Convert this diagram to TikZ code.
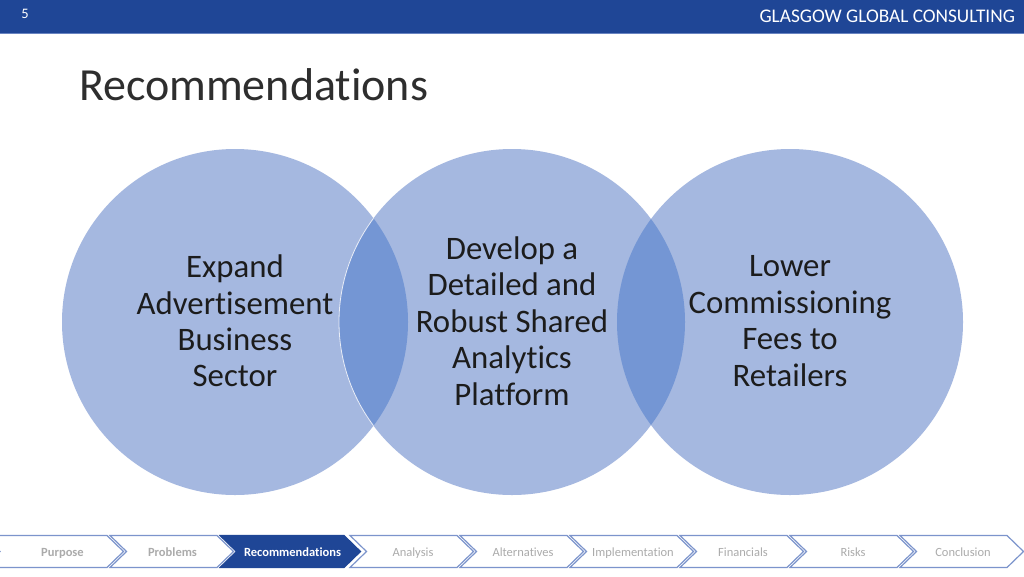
\documentclass[tikz,border=0pt]{standalone}
\usepackage{fontspec}
\setmainfont[Ligatures=NoCommon,RawFeature={-liga;-clig}]{Carlito}
\definecolor{barblue}{HTML}{1F4696}
\definecolor{circblue}{HTML}{A5B8E0}
\definecolor{lensblue}{HTML}{7496D4}
\definecolor{chevline}{HTML}{7C94CC}
\definecolor{inktext}{HTML}{1C1C1C}
\definecolor{titletext}{HTML}{2E2E2E}
\definecolor{greytext}{HTML}{ABABAB}
\newcommand{\chev}[4]{% start, end top, fill, line
  \draw[line width=1.2pt,draw=#4,fill=#3,line join=miter] (#1,535.5) -- (#2,535.5) -- (#2+16.5,551.5) -- (#2,567.5) -- (#1,567.5) -- (#1+16.5,551.5) -- cycle;}
\tikzset{
  circ/.style={circle,minimum size=346pt,inner sep=0pt,fill=circblue,draw=none},
  circtext/.style={align=center,text=inktext,font=\fontsize{32.8}{36.4}\selectfont},
  chevtext/.style={anchor=base,text=greytext,font=\fontsize{12.5}{14}\selectfont\bfseries},
  chevlight/.style={anchor=base,text=greytext,font=\fontsize{12.5}{14}\selectfont}
}
\begin{document}
\begin{tikzpicture}[x=1pt,y=-1pt]
\useasboundingbox (0,0) rectangle (1024,576);
\fill[white] (0,0) rectangle (1024,576);
\fill[barblue] (0,0) rectangle (1024,33);
\draw[line width=1.2pt,draw=chevline!80!barblue] (0,33.5) -- (1024,33.5);
\node[anchor=center,text=white,font=\fontsize{14.5}{16}\selectfont] (num) at (25,14) {5};
\node[anchor=east,text=white,font=\fontsize{19.3}{22}\selectfont] (firm) at (1018.5,16.5) {GLASGOW GLOBAL CONSULTING};
\node[anchor=west,text=titletext,font=\fontsize{46}{52}\selectfont] (title) at (75.5,85) {Recommendations};
% circles
\node[circ] (c1) at (235,322) {};
\node[circ] (c2) at (512,322) {};
\node[circ] (c3) at (790,322) {};
\begin{scope}
\clip (235,322) circle (173);
\fill[lensblue] (512,322) circle (173);
\draw[white!75!circblue,line width=0.8pt] (512,322) circle (173);
\end{scope}
\begin{scope}
\clip (512,322) circle (173);
\fill[lensblue] (790,322) circle (173);
\end{scope}
\node[circtext] (t1) at (235,321) {Expand\\Advertisement\\Business\\Sector};
\node[circtext] (t2) at (512,321) {Develop a\\Detailed and\\Robust Shared\\Analytics\\Platform};
\node[circtext] (t3) at (790,321) {Lower\\Commissioning\\Fees to\\Retailers};
% chevrons
\chev{-16.5}{107}{white}{chevline}
\chev{110}{217}{white}{chevline}
\chev{220}{344}{barblue}{barblue}
\chev{350}{457}{white}{chevline}
\chev{460}{567}{white}{chevline}
\chev{570}{677}{white}{chevline}
\chev{680}{787}{white}{chevline}
\chev{790}{897}{white}{chevline}
\chev{900}{1007}{white}{chevline}
\node[chevtext] (n1) at (62.5,556) {Purpose};
\node[chevtext] (n2) at (172.5,556) {Problems};
\node[anchor=base,text=white,font=\fontsize{12.5}{14}\selectfont\bfseries] (n3) at (292.5,556) {Recommendations};
\node[chevlight] (n4) at (413,556) {Analysis};
\node[chevlight] (n5) at (523,556) {Alternatives};
\node[chevlight] (n6) at (633,556) {Implementation};
\node[chevlight] (n7) at (743,556) {Financials};
\node[chevlight] (n8) at (853,556) {Risks};
\node[chevlight] (n9) at (963,556) {Conclusion};
\end{tikzpicture}
\end{document}
